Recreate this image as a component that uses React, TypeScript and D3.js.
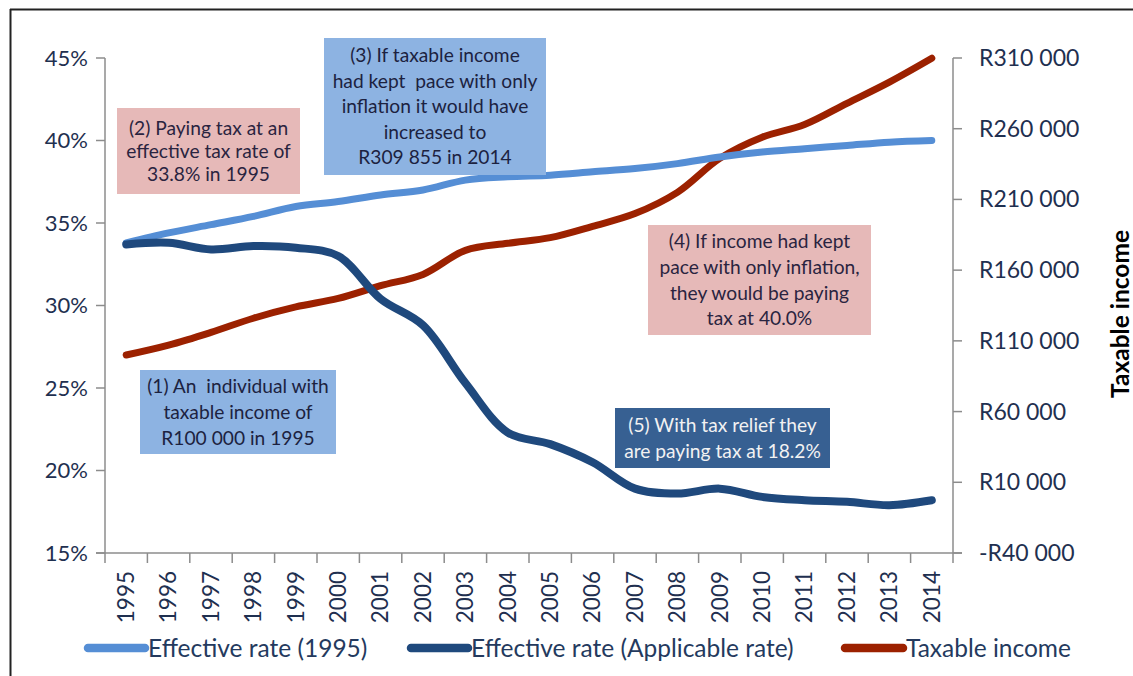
import React from "react";
import * as d3 from "d3";

const years = ["1995","1996","1997","1998","1999","2000","2001","2002","2003","2004","2005","2006","2007","2008","2009","2010","2011","2012","2013","2014"];
const rate1995 = [33.8,34.4,34.9,35.4,36.0,36.3,36.7,37.0,37.6,37.8,37.9,38.1,38.3,38.6,39.0,39.3,39.5,39.7,39.9,40.0];
const rateApplicable = [33.7,33.8,33.4,33.6,33.5,33.0,30.4,28.8,25.3,22.3,21.6,20.5,18.9,18.6,18.9,18.4,18.2,18.1,17.9,18.2];
const taxableIncome = [100000,107000,116000,126000,134000,140000,149000,157000,174000,179000,183000,191000,200000,215000,239000,254000,263000,278000,293000,309855];
const leftTicks = [15,20,25,30,35,40,45];
const rightTicks = [-40000,10000,60000,110000,160000,210000,260000,310000];
const seriesNames = ["Effective rate (1995)","Effective rate (Applicable rate)","Taxable income"];
const notes = [
  ["(2) Paying tax at an","effective tax rate of","33.8% in 1995"],
  ["(3) If taxable income","had kept  pace with only","inflation it would have","increased to","R309 855 in 2014"],
  ["(1) An  individual with","taxable income of","R100 000 in 1995"],
  ["(4) If income had kept","pace with only inflation,","they would be paying","tax at 40.0%"],
  ["(5) With tax relief they","are paying tax at 18.2%"],
];

const COLORS = ["#558ED5", "#1F497D", "#9C2100"];
const FONT = "Lato, 'Open Sans', sans-serif";
const AXIS = "#8c8c8c";
const LABEL = "#1F3050";

const boxes = [
  { x: 117, y: 108, w: 183, h: 86, fill: "#E6B9B8", color: "#2a2440", lh: 23 },
  { x: 324, y: 38, w: 222, h: 137, fill: "#8DB3E2", color: "#1c2240", lh: 25.5 },
  { x: 140, y: 370, w: 196, h: 84, fill: "#8DB3E2", color: "#1c2240", lh: 26 },
  { x: 648, y: 225, w: 223, h: 110, fill: "#E6B9B8", color: "#2a2440", lh: 25.7 },
  { x: 615, y: 408, w: 215, h: 60, fill: "#376092", color: "#F2F2F2", lh: 26 },
];

function fmtR(v: number) {
  const s = Math.abs(v).toString().replace(/\B(?=(\d{3})+(?!\d))/g, " ");
  return (v < 0 ? "-R" : "R") + s;
}

export default function App() {
  const W = 1133, H = 676;
  const left = 105, right = 953, top = 58, bottom = 553;
  const x = d3.scaleBand<string>().domain(years).range([left, right]);
  const cx = (yr: string) => (x(yr) as number) + x.bandwidth() / 2;
  const yL = d3.scaleLinear().domain([15, 45]).range([bottom, top]);
  const yR = d3.scaleLinear().domain([-40000, 310000]).range([bottom, top]);
  const curve = d3.curveCatmullRom.alpha(0.5);
  const lineL = d3.line<number>().x((_, i) => cx(years[i])).y((d) => yL(d)).curve(curve);
  const lineR = d3.line<number>().x((_, i) => cx(years[i])).y((d) => yR(d)).curve(curve);

  const legend = [
    { x1: 88, x2: 145, tx: 148 },
    { x1: 411, x2: 468, tx: 471 },
    { x1: 845, x2: 903, tx: 906 },
  ];

  return (
    <svg width={W} height={H} style={{ position: "absolute", left: 0, top: 0, background: "#fff" }} fontFamily={FONT}>
      <rect x={0} y={0} width={W} height={H} fill="#fff" />
      {/* frame */}
      <line x1={10} x2={W} y1={9.5} y2={9.5} stroke="#222" strokeWidth={2} />
      <line x1={10.5} x2={10.5} y1={9} y2={H} stroke="#222" strokeWidth={2} />

      {/* axes */}
      <line x1={left} x2={left} y1={top} y2={bottom} stroke={AXIS} strokeWidth={1.5} />
      <line x1={right} x2={right} y1={top} y2={bottom} stroke={AXIS} strokeWidth={1.5} />
      <line x1={left - 9} x2={right + 9} y1={bottom} y2={bottom} stroke={AXIS} strokeWidth={1.5} />
      {leftTicks.map((t) => (
        <g key={"l" + t}>
          <line x1={left - 9} x2={left} y1={yL(t)} y2={yL(t)} stroke={AXIS} strokeWidth={1.5} />
          <text x={88} y={yL(t)} dy="0.35em" textAnchor="end" fontSize={22} fill={LABEL}>{t + "%"}</text>
        </g>
      ))}
      {rightTicks.map((t) => (
        <g key={"r" + t}>
          <line x1={right} x2={right + 9} y1={yR(t)} y2={yR(t)} stroke={AXIS} strokeWidth={1.5} />
          <text x={979} y={yR(t)} dy="0.35em" textAnchor="start" fontSize={23} fill={LABEL}>{fmtR(t)}</text>
        </g>
      ))}
      {years.map((yr) => (
        <line key={"t" + yr} x1={x(yr) as number} x2={x(yr) as number} y1={bottom} y2={bottom + 10} stroke={AXIS} strokeWidth={1.5} />
      ))}
      <line x1={right} x2={right} y1={bottom} y2={bottom + 10} stroke={AXIS} strokeWidth={1.5} />
      {years.map((yr) => (
        <text key={"y" + yr} transform={`translate(${cx(yr)},${bottom + 18}) rotate(-90)`} dy="0.35em" textAnchor="end" fontSize={22.5} fill={LABEL}>{yr}</text>
      ))}
      <text transform={`translate(1120,314) rotate(-90)`} dy="0.35em" textAnchor="middle" fontSize={24.5} fontWeight="bold" fill="#000">Taxable income</text>

      {/* lines */}
      <path d={lineR(taxableIncome) || ""} fill="none" stroke={COLORS[2]} strokeWidth={7} strokeLinecap="round" strokeLinejoin="round" />
      <path d={lineL(rate1995) || ""} fill="none" stroke={COLORS[0]} strokeWidth={7} strokeLinecap="round" strokeLinejoin="round" />
      <path d={lineL(rateApplicable) || ""} fill="none" stroke={COLORS[1]} strokeWidth={8} strokeLinecap="round" strokeLinejoin="round" />

      {/* annotation boxes */}
      {notes.map((lines, i) => {
        const b = boxes[i];
        const mid = b.y + b.h / 2;
        const start = mid - ((lines.length - 1) * b.lh) / 2;
        return (
          <g key={"n" + i}>
            <rect x={b.x} y={b.y} width={b.w} height={b.h} fill={b.fill} />
            {lines.map((ln, j) => (
              <text key={j} x={b.x + b.w / 2} y={start + j * b.lh} dy="0.35em" textAnchor="middle" fontSize={19.2} fill={b.color} style={{ whiteSpace: "pre" }}>{ln}</text>
            ))}
          </g>
        );
      })}

      {/* legend */}
      {seriesNames.map((name, i) => (
        <g key={"lg" + i}>
          <line x1={legend[i].x1} x2={legend[i].x2} y1={648} y2={648} stroke={COLORS[i]} strokeWidth={8.5} strokeLinecap="round" />
          <text x={legend[i].tx} y={648} dy="0.35em" fontSize={24.5} fill="#243A5E">{name}</text>
        </g>
      ))}
    </svg>
  );
}
